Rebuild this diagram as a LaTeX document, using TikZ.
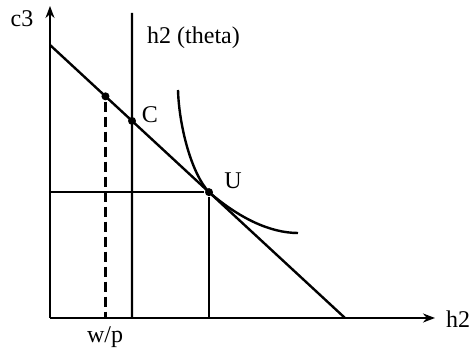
\documentclass[tikz,border=0pt]{standalone}
\usepackage{fontspec}
\setmainfont{Liberation Serif}
\usetikzlibrary{arrows.meta,positioning,calc}
\tikzstyle{dot} = [circle, fill=black, inner sep=0pt, minimum size=4pt]
\tikzstyle{lbl} = [inner sep=0pt, font=\fontsize{12}{14}\selectfont]
\tikzstyle{axis} = [-{Stealth[length=6pt,width=4.5pt]}]

\begin{document}
\begin{tikzpicture}[x=0.5pt, y=-0.5pt, line width=1.2pt]
    \useasboundingbox (0,0) rectangle (471,356);
    % Axes
    \coordinate (origin) at (50,318);
    \coordinate (ytop) at (50,6);
    \coordinate (xend) at (435,318);
    \draw [axis] (origin) -- (ytop);
    \draw [axis] (origin) -- (xend);
    \node [lbl] (c3) at (22,19) {c3};
    \node [lbl] (h2) at (458,319) {h2};

    % Budget line and points on it
    \coordinate (bstart) at (50,45);
    \coordinate (bend) at (345,318);
    \draw (bstart) -- (bend);
    \node [dot] (wp) at ($(bstart)!0.188!(bend)$) {};
    \node [dot] (C) at ($(bstart)!0.278!(bend)$) {};
    \node [dot] (U) at ($(bstart)!0.539!(bend)$) {};
    \node [lbl] (Clabel) at (150,115) {C};
    \node [lbl] (Ulabel) at (233,181) {U};

    % Vertical line h2 (theta)
    \coordinate (ttop) at (132,13);
    \draw (ttop) -- (C |- origin);
    \node [lbl, anchor=west] (theta) at (146,38) {h2 (theta)};

    % Dashed line down to w/p
    \draw [dash pattern=on 5pt off 2.5pt] (wp) -- (wp |- origin);
    \node [lbl] (wplabel) at (105,337) {w/p};

    % Lines from U to the axes
    \draw (origin |- U) -- (U) -- (U |- origin);

    % Indifference curve
    \draw (178,90) .. controls (179,125) and (191,173) .. (U.center)
        .. controls (239,218) and (270,233) .. (298,233);
\end{tikzpicture}
\end{document}
